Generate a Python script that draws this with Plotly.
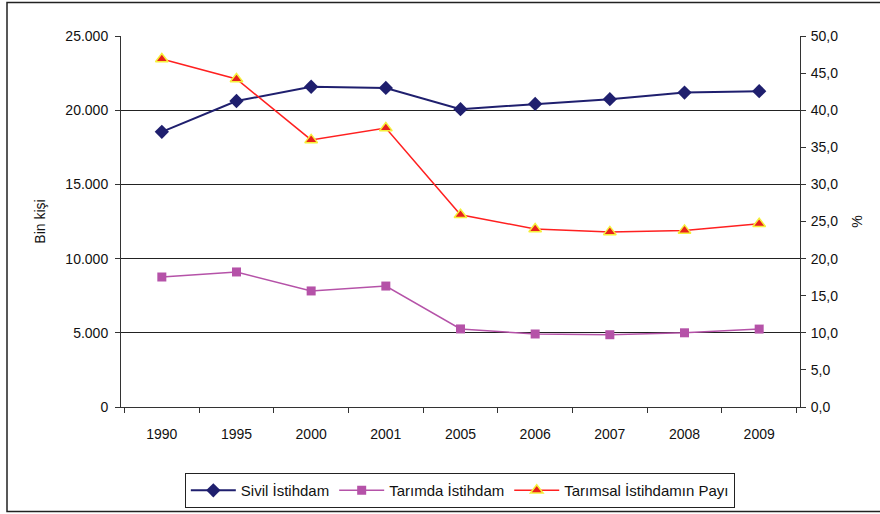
import plotly.graph_objects as go

years = ["1990", "1995", "2000", "2001", "2005", "2006", "2007", "2008", "2009"]
sivil = [18540, 20620, 21580, 21500, 20070, 20420, 20740, 21190, 21280]
tarim = [8760, 9100, 7820, 8150, 5260, 4920, 4870, 5000, 5250]
pay = [46.9, 44.2, 36.0, 37.6, 25.9, 24.0, 23.6, 23.8, 24.7]

FONT = "Liberation Sans, Arial, sans-serif"

fig = go.Figure()
fig.add_trace(go.Scatter(
    x=years, y=sivil, name="Sivil İstihdam", mode="lines+markers",
    line=dict(color="#1f1f6e", width=2),
    marker=dict(symbol="diamond", size=11, color="#1f1f6e"),
))
fig.add_trace(go.Scatter(
    x=years, y=tarim, name="Tarımda İstihdam", mode="lines+markers",
    line=dict(color="#b552a8", width=1.5),
    marker=dict(symbol="square", size=9, color="#b552a8"),
))
fig.add_trace(go.Scatter(
    x=years, y=pay, name="Tarımsal İstihdamın Payı", mode="lines+markers",
    yaxis="y2",
    line=dict(color="#ff2020", width=1.5),
    marker=dict(symbol="triangle-up", size=11, color="#e8201c",
                line=dict(color="#f5f03a", width=1.5)),
))

fig.update_layout(
    width=880, height=514,
    margin=dict(l=121, r=80, t=36, b=107, autoexpand=False),
    paper_bgcolor="white", plot_bgcolor="white",
    separators=",.",
    font=dict(family=FONT, size=14, color="#111"),
    showlegend=True,
    legend=dict(
        orientation="h", x=0.499, xanchor="center", y=-0.178, yanchor="top",
        bordercolor="#222", borderwidth=1, font=dict(size=15, family=FONT),
        tracegroupgap=0, itemwidth=45,
    ),
    xaxis=dict(
        type="category", showgrid=False, showline=True, linecolor="#333",
        linewidth=1, ticks="outside", tickson="boundaries", ticklen=5,
        tickcolor="#333", tickfont=dict(size=14), zeroline=False,
        ticklabelstandoff=14,
    ),
    yaxis=dict(
        range=[0, 25000], dtick=5000, tickformat=",d", showgrid=True,
        gridcolor="#222", gridwidth=1, showline=True, linecolor="#333",
        linewidth=1, ticks="outside", ticklen=5, tickcolor="#333",
        zeroline=False, tickfont=dict(size=14), ticklabelstandoff=4,
        title=dict(text="Bin kişi", font=dict(size=14), standoff=16),
    ),
    yaxis2=dict(
        range=[0, 50], dtick=5, tickformat=".1f", overlaying="y", side="right",
        showgrid=False, showline=True, linecolor="#333", linewidth=1,
        ticks="outside", ticklen=5, tickcolor="#333", zeroline=False,
        tickfont=dict(size=14), ticklabelstandoff=2,
        title=dict(text="%", font=dict(size=14), standoff=14),
    ),
    shapes=[
        dict(type="rect", xref="paper", yref="paper",
             x0=(7 - 121) / 679, x1=(890 - 121) / 679,
             y0=(407 - 511.5) / 371, y1=(407 - 2.5) / 371,
             line=dict(color="#222", width=1.5), layer="below"),
    ],
)

fig.write_html(
    "out.html",
    config={"displayModeBar": False},
    post_script="document.body.style.margin='0';document.body.style.overflow='hidden';",
)
